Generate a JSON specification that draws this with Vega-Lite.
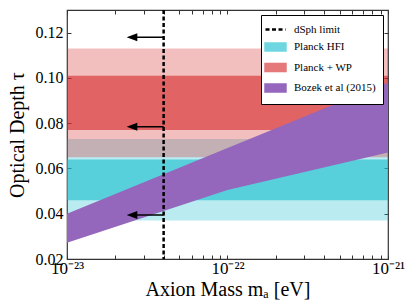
{
  "$schema": "https://vega.github.io/schema/vega-lite/v6.json",
  "width": 321,
  "height": 249,
  "autosize": {"type": "none"},
  "padding": {"left": 67, "top": 10, "right": 27, "bottom": 48},
  "background": "white",
  "config": {
    "view": {"stroke": "#333333", "strokeWidth": 1.2},
    "font": "Liberation Serif",
    "axis": {"grid": false, "domain": false, "tickColor": "#333333", "labelColor": "black", "titleColor": "black", "labelFont": "Liberation Serif", "titleFont": "Liberation Serif", "titleFontWeight": "normal"}
  },
  "datasets": {
    "bands": [
      {"series": "Planck HFI", "level": "2σ", "lo": 0.037, "hi": 0.073, "m0": 1e-23, "m1": 1e-21},
      {"series": "Planck HFI", "level": "1σ", "lo": 0.046, "hi": 0.064, "m0": 1e-23, "m1": 1e-21},
      {"series": "Planck + WP", "level": "2σ", "lo": 0.065, "hi": 0.113, "m0": 1e-23, "m1": 1e-21},
      {"series": "Planck + WP", "level": "1σ", "lo": 0.077, "hi": 0.101, "m0": 1e-23, "m1": 1e-21}
    ],
    "bozek": [
      {"series": "Bozek et al (2015)", "m": 1e-23, "lo": 0.0272, "hi": 0.040},
      {"series": "Bozek et al (2015)", "m": 1e-22, "lo": 0.0505, "hi": 0.069},
      {"series": "Bozek et al (2015)", "m": 1e-21, "lo": 0.067, "hi": 0.098}
    ],
    "limit": [{"series": "dSph limit", "m": 4e-23}],
    "arrows": [
      {"m_limit": 4e-23, "m_head": 2.54e-23, "tau": 0.118},
      {"m_limit": 4e-23, "m_head": 2.54e-23, "tau": 0.0784},
      {"m_limit": 4e-23, "m_head": 2.54e-23, "tau": 0.0394}
    ]
  },
  "resolve": {"axis": {"x": "independent", "y": "independent"}},
  "layer": [
    {
      "data": {"name": "bands"},
      "mark": {"type": "rect", "clip": true},
      "encoding": {
        "x": {"field": "m0", "type": "quantitative",
          "scale": {"type": "log", "domain": [1e-23, 1e-21], "nice": false},
          "axis": {"orient": "bottom", "title": "Axion Mass mₐ [eV]", "titleFontSize": 20, "titlePadding": 3,
            "values": [1e-23, 2e-23, 3e-23, 4e-23, 5e-23, 6e-23, 7e-23, 8e-23, 9e-23, 1e-22, 2e-22, 3e-22, 4e-22, 5e-22, 6e-22, 7e-22, 8e-22, 9e-22, 1e-21],
            "labelExpr": "datum.value < 1.5e-23 ? '10⁻²³' : (abs(datum.value - 1e-22) < 1e-24 ? '10⁻²²' : (datum.value > 0.95e-21 ? '10⁻²¹' : ''))",
            "labelOverlap": false, "labelFontSize": 17, "labelPadding": 5, "tickSize": -4, "labelFlush": false}},
        "x2": {"field": "m1"},
        "y": {"field": "lo", "type": "quantitative",
          "scale": {"domain": [0.02, 0.13], "nice": false, "zero": false},
          "axis": {"orient": "left", "title": "Optical Depth τ", "titleFontSize": 20, "titlePadding": 8,
            "values": [0.02, 0.04, 0.06, 0.08, 0.1, 0.12], "format": ".2f", "labelFontSize": 16, "labelPadding": 8, "tickSize": -4}},
        "y2": {"field": "hi"},
        "color": {"field": "series", "type": "nominal",
          "scale": {"domain": ["dSph limit", "Planck HFI", "Planck + WP", "Bozek et al (2015)"], "range": ["black", "#17becf", "#d62728", "#9467bd"]},
          "legend": {"title": null, "orient": "top-right", "offset": 5, "padding": 7, "strokeColor": "black", "fillColor": "white",
            "labelFont": "Liberation Serif", "labelFontSize": 11, "labelColor": "black", "labelOffset": 11, "rowPadding": 3.5,
            "symbolSize": 156, "symbolType": "M-1.6,-0.55H1.6V0.55H-1.6Z", "symbolStrokeWidth": 2.5,
            "encode": {"symbols": {"update": {
              "shape": [{"test": "datum.value === 'dSph limit'", "value": "M-1.6,0H1.6"}, {"value": "M-1.6,-0.55H1.6V0.55H-1.6Z"}],
              "stroke": [{"test": "datum.value === 'dSph limit'", "value": "black"}, {"value": "transparent"}],
              "strokeDash": [{"test": "datum.value === 'dSph limit'", "value": [4, 2.5]}, {"value": []}],
              "strokeWidth": {"value": 2.5},
              "opacity": [{"test": "datum.value === 'Planck HFI' || datum.value === 'Planck + WP'", "value": 0.62}, {"value": 1}],
              "fillOpacity": {"value": 1}
            }}}}},
        "opacity": {"field": "level", "type": "nominal", "scale": {"domain": ["2σ", "1σ"], "range": [0.3, 0.6]}, "legend": null}
      }
    },
    {
      "data": {"name": "bozek"},
      "mark": {"type": "area", "clip": true, "opacity": 1},
      "encoding": {
        "x": {"field": "m", "type": "quantitative", "axis": null},
        "y": {"field": "lo", "type": "quantitative", "axis": null},
        "y2": {"field": "hi"},
        "color": {"field": "series", "type": "nominal"}
      }
    },
    {
      "data": {"name": "limit"},
      "mark": {"type": "rule", "strokeDash": [4, 2.5], "strokeWidth": 2.5},
      "encoding": {
        "x": {"field": "m", "type": "quantitative", "axis": null},
        "color": {"field": "series", "type": "nominal"}
      }
    },
    {
      "data": {"name": "arrows"},
      "mark": {"type": "rule", "color": "black", "strokeWidth": 1.5},
      "encoding": {
        "x": {"field": "m_limit", "type": "quantitative",
          "axis": {"orient": "top", "title": null, "labels": false, "tickSize": -4,
            "values": [1e-23, 2e-23, 3e-23, 4e-23, 5e-23, 6e-23, 7e-23, 8e-23, 9e-23, 1e-22, 2e-22, 3e-22, 4e-22, 5e-22, 6e-22, 7e-22, 8e-22, 9e-22, 1e-21]}},
        "x2": {"field": "m_head"},
        "y": {"field": "tau", "type": "quantitative",
          "axis": {"orient": "right", "title": null, "labels": false, "tickSize": -4, "values": [0.02, 0.04, 0.06, 0.08, 0.1, 0.12]}}
      }
    },
    {
      "data": {"name": "arrows"},
      "mark": {"type": "point", "shape": "M-1,0L1,-0.75L1,0.75Z", "filled": true, "color": "black", "opacity": 1, "size": 114},
      "encoding": {
        "x": {"field": "m_head", "type": "quantitative", "axis": null},
        "y": {"field": "tau", "type": "quantitative", "axis": null}
      }
    }
  ]
}
